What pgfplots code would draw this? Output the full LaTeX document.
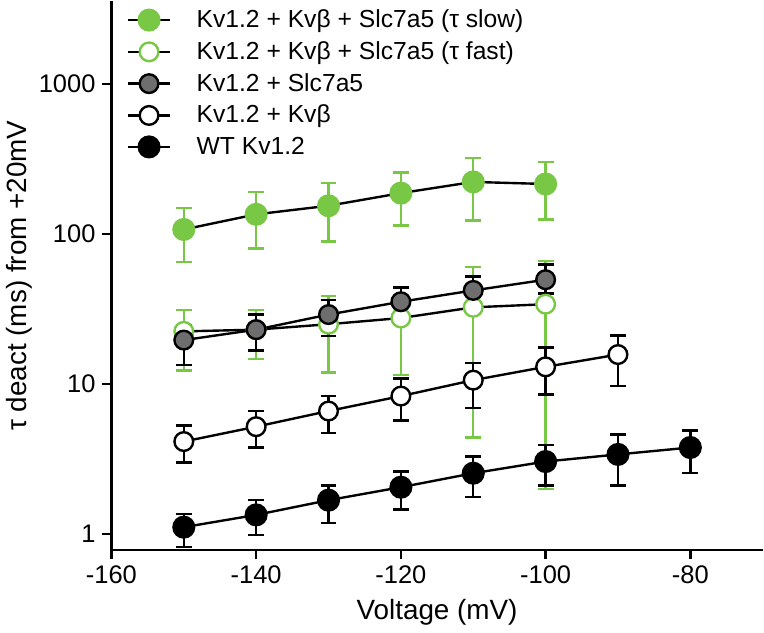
\documentclass[border=0pt]{standalone}
\usepackage{pgfplots}
\pgfplotsset{compat=1.18}
\usepackage{pgfplotstable}
\usepackage{fontspec}
\setmainfont{Liberation Sans}
\definecolor{lgreen}{RGB}{120,200,70}
\definecolor{mgrey}{RGB}{110,110,110}
\pgfplotstableread{
x y ep em
-150 107 42 42
-140 135 55 55
-130 154 65 65
-120 187 70 73
-110 222 99 99
-100 215 85 90
}\slow
\pgfplotstableread{
x y ep em
-150 22.4 8.6 10.1
-140 23 8 8.4
-130 25 13.5 13.1
-120 27.5 16 16
-110 32.4 28 28
-100 34 32 32
}\fast
\pgfplotstableread{
x y ep em
-150 19.6 5.2 6.2
-140 23 6 6.3
-130 29 7.3 8.2
-120 35.3 8.7 10.3
-110 42 10 9
-100 49.5 13 9.5
}\slc
\pgfplotstableread{
x y ep em
-150 4.13 1.14 1.13
-140 5.19 1.41 1.42
-130 6.6 1.7 1.87
-120 8.3 2.6 2.6
-110 10.6 3.2 3.7
-100 13.0 4.5 4.5
-90 15.7 5.3 6.0
}\kvb
\pgfplotstableread{
x y ep em
-150 1.11 0.25 0.29
-140 1.34 0.34 0.36
-130 1.68 0.43 0.5
-120 2.05 0.56 0.59
-110 2.54 0.75 0.78
-100 3.04 0.86 0.93
-90 3.39 1.21 1.28
-80 3.77 1.13 1.23
}\wt
\begin{document}
\begin{tikzpicture}
\begin{axis}[
  scale only axis, width=327.5pt, height=276pt,
  xmin=-160, xmax=-70, ymode=log, ymin=0.78, ymax=3550,
  axis x line=bottom, axis y line=left,
  axis line style={-, line width=1.3pt},
  tick align=outside, major tick length=4.5pt,
  every tick/.style={black, line width=1.3pt},
  xtick={-160,-140,-120,-100,-80},
  ytick={1,10,100,1000}, yticklabels={1,10,100,1000},
  yminorticks=false,
  /pgf/number format/assume math mode=true,
  ticklabel style={font=\fontsize{12.8}{15}\selectfont},
  label style={font=\fontsize{14}{16}\selectfont},
  xlabel={Voltage (mV)}, ylabel={τ deact (ms) from +20mV},
  xlabel style={yshift=-1pt},
  ylabel style={at={(axis description cs:-0.141,0.5)}, anchor=center},
  legend cell align=left,
  legend style={draw=none, fill=none, at={(0.014,1.0)}, anchor=north west,
    font=\fontsize{12.4}{14}\selectfont, row sep=0pt},
  legend image code/.code={\draw[mark repeat=2,mark phase=2] plot coordinates {(0cm,0cm)(0.37cm,0cm)(0.74cm,0cm)}; \path (1.12cm,0);},
  every axis plot/.append style={line width=1.2pt},
  error bars/error bar style={line width=1.2pt},
  error bars/error mark options={rotate=90, mark size=4pt, line width=1.2pt},
]
\addplot[black, mark=*, mark size=5.2pt, mark options={fill=lgreen, draw=lgreen},
  error bars/.cd, y dir=both, y explicit, error bar style={lgreen, line width=1.2pt},
  error mark options={rotate=90, lgreen, mark size=4pt, line width=1.2pt}]
  table[x=x, y=y, y error plus=ep, y error minus=em] {\slow};
\addlegendentry{Kv1.2 + Kvβ + Slc7a5 (τ slow)}
\addplot[black, mark=*, mark size=4.7pt, mark options={fill=white, draw=lgreen},
  error bars/.cd, y dir=both, y explicit, error bar style={lgreen, line width=1.2pt},
  error mark options={rotate=90, lgreen, mark size=4pt, line width=1.2pt}]
  table[x=x, y=y, y error plus=ep, y error minus=em] {\fast};
\addlegendentry{Kv1.2 + Kvβ + Slc7a5 (τ fast)}
\addplot[black, mark=*, mark size=4.7pt, mark options={fill=mgrey, draw=black},
  error bars/.cd, y dir=both, y explicit]
  table[x=x, y=y, y error plus=ep, y error minus=em] {\slc};
\addlegendentry{Kv1.2 + Slc7a5}
\addplot[black, mark=*, mark size=4.7pt, mark options={fill=white, draw=black},
  error bars/.cd, y dir=both, y explicit]
  table[x=x, y=y, y error plus=ep, y error minus=em] {\kvb};
\addlegendentry{Kv1.2 + Kvβ}
\addplot[black, mark=*, mark size=5.2pt, mark options={fill=black, draw=black},
  error bars/.cd, y dir=both, y explicit]
  table[x=x, y=y, y error plus=ep, y error minus=em] {\wt};
\addlegendentry{WT Kv1.2}
\end{axis}
\end{tikzpicture}
\end{document}
